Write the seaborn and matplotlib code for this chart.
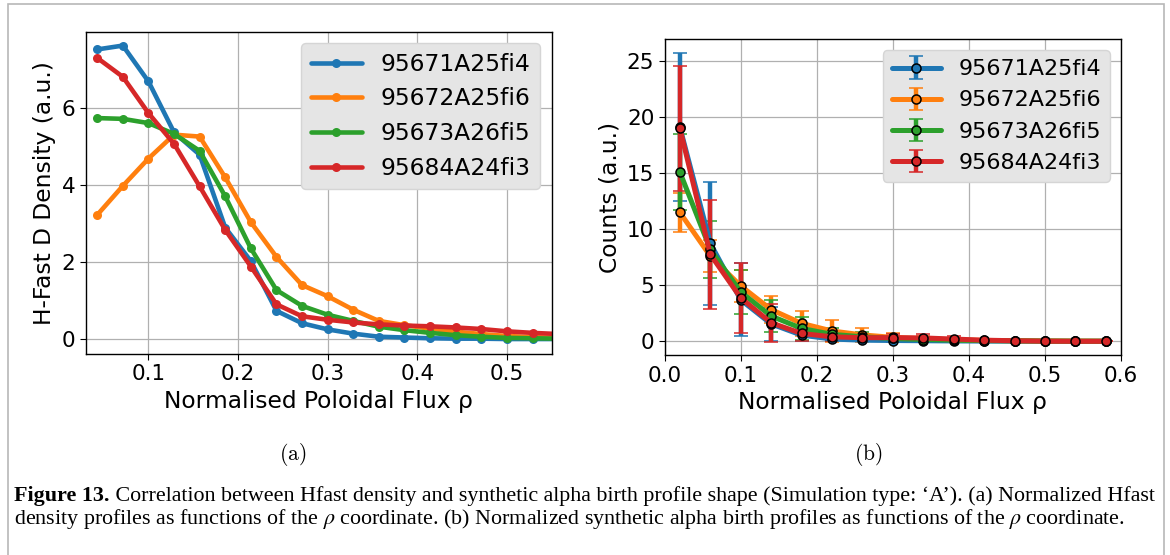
import matplotlib
matplotlib.use("Agg")
import matplotlib.pyplot as plt
import pandas as pd
import seaborn as sns
from matplotlib.patches import Rectangle

# ---------------- data ----------------
shots = ["95671A25fi4", "95672A25fi6", "95673A26fi5", "95684A24fi3"]
colors = ["#1f77b4", "#ff7f0e", "#2ca02c", "#d62728"]

# panel (a): H-fast D density profiles
rho_a = [0.0429, 0.0714, 0.1000, 0.1286, 0.1571, 0.1857, 0.2143, 0.2429, 0.2714, 0.3000,
         0.3286, 0.3571, 0.3857, 0.4143, 0.4429, 0.4714, 0.5000, 0.5286, 0.5571, 0.5857]
dens_95671 = [7.52, 7.62, 6.69, 5.37, 4.79, 2.90, 2.03, 0.74, 0.42, 0.26,
              0.15, 0.07, 0.05, 0.03, 0.02, 0.02, 0.01, 0.01, 0.01, 0.01]
dens_95672 = [3.23, 3.98, 4.69, 5.31, 5.26, 4.20, 3.04, 2.14, 1.41, 1.12,
              0.77, 0.48, 0.37, 0.28, 0.20, 0.14, 0.09, 0.06, 0.04, 0.03]
dens_95673 = [5.74, 5.72, 5.61, 5.33, 4.89, 3.71, 2.36, 1.28, 0.87, 0.64,
              0.48, 0.33, 0.24, 0.17, 0.11, 0.07, 0.04, 0.03, 0.02, 0.01]
dens_95684 = [7.30, 6.81, 5.87, 5.07, 3.97, 2.84, 1.89, 0.91, 0.60, 0.51,
              0.44, 0.39, 0.36, 0.34, 0.31, 0.27, 0.21, 0.17, 0.14, 0.12]

# panel (b): synthetic alpha birth profiles
rho_b = [0.02, 0.06, 0.10, 0.14, 0.18, 0.22, 0.26, 0.30, 0.34, 0.38, 0.42, 0.46, 0.50, 0.54, 0.58]
cnt_95671 = [19.1, 8.75, 3.70, 1.55, 0.55, 0.20, 0.10, 0.07, 0.05, 0.03, 0.02, 0.01, 0.01, 0.00, 0.00]
err_95671 = [6.6, 5.5, 3.25, 1.55, 0.55, 0.20, 0.10, 0.07, 0.05, 0.03, 0.02, 0.01, 0.01, 0.00, 0.00]
cnt_95672 = [11.5, 7.6, 4.94, 2.83, 1.60, 0.92, 0.57, 0.35, 0.22, 0.14, 0.08, 0.05, 0.03, 0.02, 0.01]
err_95672 = [1.7, 1.4, 1.4, 1.2, 1.13, 0.95, 0.65, 0.40, 0.25, 0.15, 0.08, 0.05, 0.03, 0.02, 0.01]
cnt_95673 = [15.1, 8.2, 4.40, 2.25, 1.15, 0.62, 0.40, 0.25, 0.16, 0.10, 0.06, 0.04, 0.02, 0.01, 0.01]
err_95673 = [3.4, 2.55, 1.96, 1.45, 1.0, 0.60, 0.40, 0.25, 0.16, 0.10, 0.06, 0.04, 0.02, 0.01, 0.01]
cnt_95684 = [19.0, 7.75, 3.87, 1.65, 0.70, 0.40, 0.32, 0.33, 0.30, 0.20, 0.10, 0.05, 0.01, 0.00, 0.00]
err_95684 = [5.6, 4.85, 3.12, 1.68, 0.70, 0.40, 0.32, 0.36, 0.38, 0.30, 0.10, 0.05, 0.01, 0.00, 0.00]

dens_all = [dens_95671, dens_95672, dens_95673, dens_95684]
cnt_all = [cnt_95671, cnt_95672, cnt_95673, cnt_95684]
err_all = [err_95671, err_95672, err_95673, err_95684]

xlabel = "Normalised Poloidal Flux ρ"
ylabel_a = "H-Fast D Density (a.u.)"
ylabel_b = "Counts (a.u.)"
cap_bold = "Figure 13."
cap_line1 = (" Correlation between Hfast density and synthetic alpha birth profile shape "
             "(Simulation type: \u2018A\u2019). (a) Normalized Hfast")
cap_line2 = (r"density profiles as functions of the $\rho$ coordinate. (b) Normalized synthetic "
             r"alpha birth profiles as functions of the $\rho$ coordinate.")

# ---------------- style ----------------
sns.set_style("ticks")
plt.rcParams.update({
    "font.family": ["DejaVu Sans"],
    "axes.edgecolor": "black",
    "axes.linewidth": 1.0,
    "xtick.color": "black",
    "ytick.color": "black",
    "xtick.direction": "out",
    "ytick.direction": "out",
    "xtick.major.size": 4,
    "ytick.major.size": 4,
    "xtick.labelsize": 15.5,
    "ytick.labelsize": 15.5,
    "axes.labelsize": 16.8,
    "text.color": "black",
    "axes.labelcolor": "black",
})

W, H = 1170, 555
fig = plt.figure(figsize=(W / 100, H / 100), dpi=100)
ax1 = fig.add_axes([85.7 / W, 1 - 353.7 / H, 466.0 / W, 322.0 / H])
ax2 = fig.add_axes([664.7 / W, 1 - 355.3 / H, 456.3 / W, 316.0 / H])

# ---------------- panel (a) ----------------
df_a = pd.DataFrame({
    "rho": rho_a * len(shots),
    "dens": sum(dens_all, []),
    "shot": [s for s in shots for _ in rho_a],
})
sns.lineplot(data=df_a, x="rho", y="dens", hue="shot", hue_order=shots,
             palette=colors, marker="o", markersize=6.5, markeredgewidth=0,
             linewidth=3.3, estimator=None, sort=False, ax=ax1)
ax1.set_xlim(0.03, 0.55)
ax1.set_ylim(-0.37, 7.98)
ax1.grid(True, color="#b0b0b0", linewidth=0.9)
ax1.set_xlabel(xlabel)
ax1.set_ylabel(ylabel_a)
sns.move_legend(ax1, "upper right", title=None, fontsize=16.8, frameon=True,
                facecolor="#e5e5e5", edgecolor="#d5d5d5", framealpha=1.0,
                handlelength=2.2, labelspacing=0.5, borderaxespad=0.5)

# ---------------- panel (b) ----------------
for shot, c, vals, errs in zip(shots, colors, cnt_all, err_all):
    ax2.errorbar(rho_b, vals, yerr=errs, fmt="-o", color=c, linewidth=3.6,
                 elinewidth=3.2, capsize=5, capthick=2.6, markersize=6.5,
                 markerfacecolor=c, markeredgecolor="black", markeredgewidth=1.1,
                 label=shot)
ax2.set_xlim(0.0, 0.6)
ax2.set_ylim(-1.25, 26.96)
ax2.grid(True, color="#b0b0b0", linewidth=0.9)
ax2.set_xlabel(xlabel)
ax2.set_ylabel(ylabel_b)
leg2 = ax2.legend(loc="upper right", fontsize=16.0, frameon=True,
                  facecolor="#e5e5e5", edgecolor="#d5d5d5", framealpha=1.0,
                  handlelength=2.2, labelspacing=0.5, borderaxespad=0.5)

# ---------------- sub-labels & caption ----------------
fig.text(293 / W, 1 - 455 / H, r"$\mathrm{(a)}$", math_fontfamily="cm",
         fontsize=15.5, ha="center", va="center")
fig.text(868 / W, 1 - 455 / H, r"$\mathrm{(b)}$", math_fontfamily="cm",
         fontsize=15.5, ha="center", va="center")

x0 = 14
base1, base2 = 501.5, 524.0
size = 13.5
tb = fig.text(x0 / W, 1 - base1 / H, cap_bold, family="Liberation Serif",
              fontweight="bold", fontsize=size, va="baseline", ha="left")
t1 = fig.text(0, 1 - base1 / H, cap_line1, family="Liberation Serif",
              fontsize=size, va="baseline", ha="left")
t2 = fig.text(x0 / W, 1 - base2 / H, cap_line2, family="Liberation Serif",
              math_fontfamily="stix", fontsize=size, va="baseline", ha="left")

target = 1153 - x0
for _ in range(3):
    fig.canvas.draw()
    r = fig.canvas.get_renderer()
    wb = tb.get_window_extent(r).width
    t1.set_x((x0 + wb) / W)
    fig.canvas.draw()
    w1 = t1.get_window_extent(r).x1 - x0
    size = size * target / w1
    for t in (tb, t1, t2):
        t.set_fontsize(size)
fig.canvas.draw()
r = fig.canvas.get_renderer()
t1.set_x((x0 + tb.get_window_extent(r).width) / W)

# frame around the figure
fig.patches.append(Rectangle((8 / W, -0.05), (1164 - 8) / W, 1.05 - 4.5 / H,
                             transform=fig.transFigure, fill=False,
                             edgecolor="#b8b8b8", linewidth=1.2))

fig.savefig("out.png", dpi=100)
